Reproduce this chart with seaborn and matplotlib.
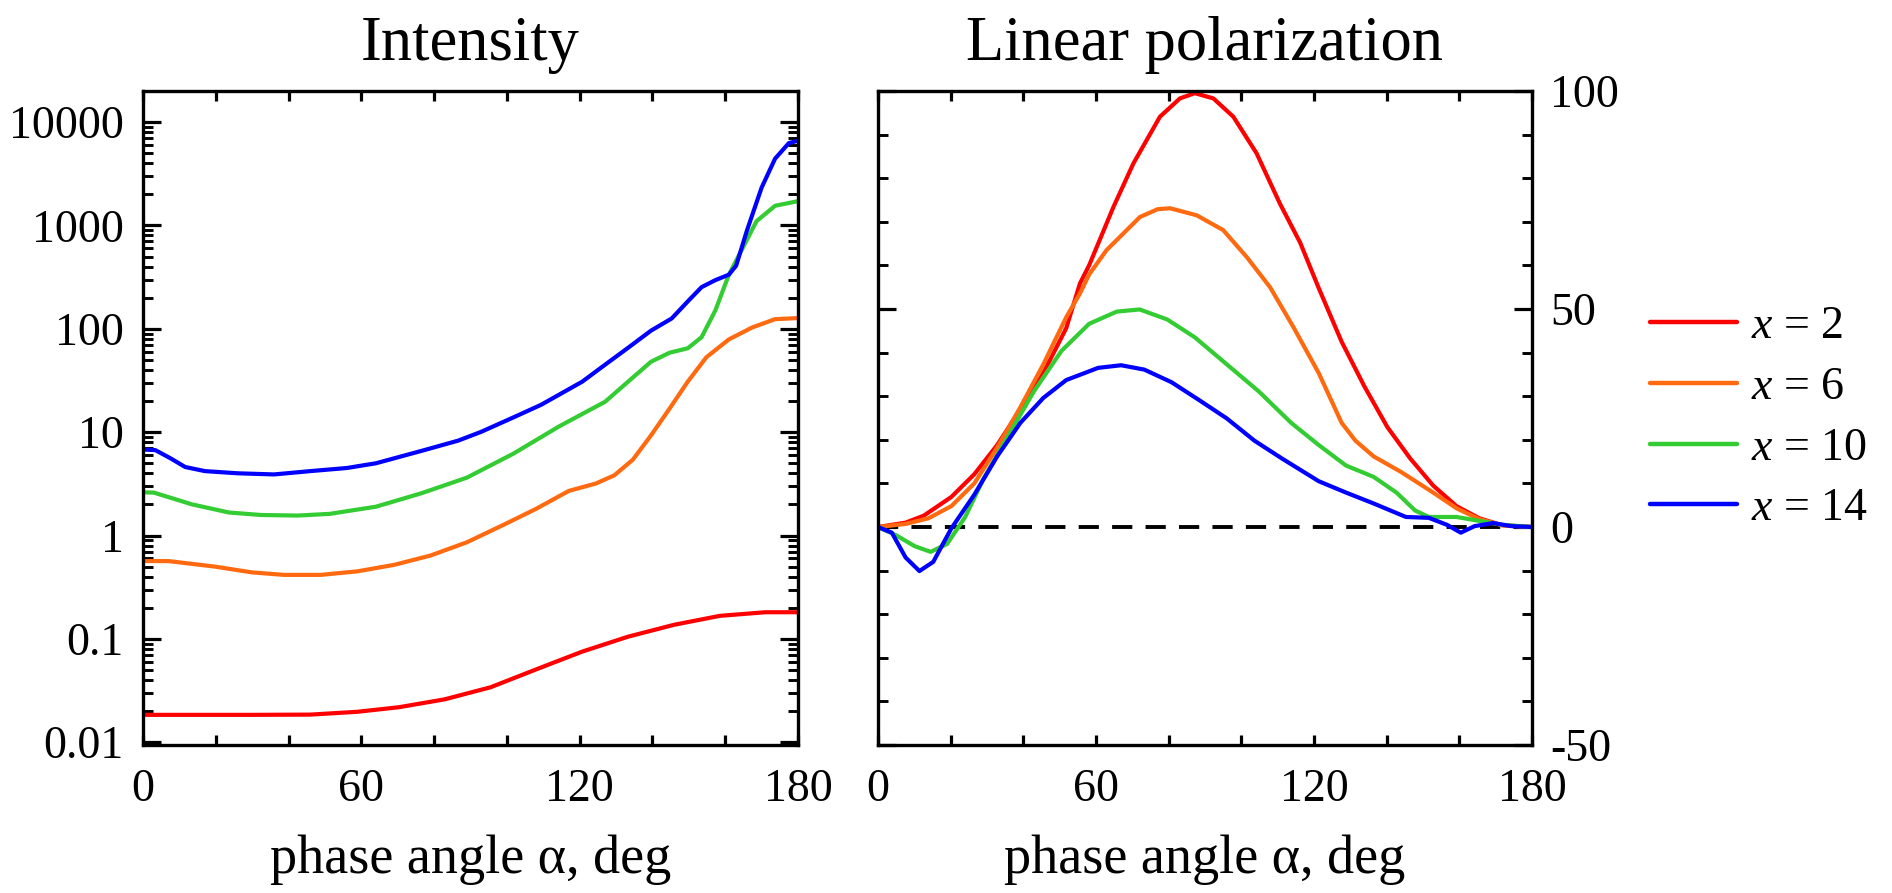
import numpy as np
import pandas as pd
import matplotlib
matplotlib.use("Agg")
import matplotlib.pyplot as plt
import seaborn as sns
from matplotlib.ticker import MultipleLocator, FuncFormatter, LogLocator, FixedLocator

# ---------------- data ----------------
labels = ["$x$ = 2", "$x$ = 6", "$x$ = 10", "$x$ = 14"]
colors = ["#ff0000", "#ff6a10", "#33cc33", "#0000ff"]

# Intensity (log scale)
int_x2_a = [0, 10, 20, 30, 46, 58.9, 70.3, 82.9, 95.5, 108, 120.7, 133.3, 146, 158.5, 171, 180]
int_x2_v = [0.0184, 0.0184, 0.0184, 0.0184, 0.0185, 0.0197, 0.0218, 0.026, 0.034, 0.0506, 0.0753, 0.105, 0.137, 0.167, 0.181, 0.181]

int_x6_a = [0, 7.2, 19.8, 29.9, 38.7, 48.8, 58.9, 69, 79, 89, 99.3, 108, 117, 124.5, 129.5, 134.6, 139.6,
            144.7, 149.7, 154.8, 161, 167.4, 173.7, 180]
int_x6_v = [0.567, 0.565, 0.50, 0.44, 0.416, 0.416, 0.45, 0.52, 0.64, 0.86, 1.28, 1.81, 2.70, 3.19, 3.82, 5.41, 9.3,
            16.9, 30.8, 53, 79, 103, 124, 127]

int_x10_a = [0, 3, 13.5, 23.6, 32.4, 42.5, 51.3, 64, 76.6, 89, 101.8, 114.4, 127, 133.3, 139.6, 144.7, 149.7,
             153.5, 157.3, 161, 164.8, 168.6, 173.7, 180]
int_x10_v = [2.62, 2.6, 2.0, 1.67, 1.58, 1.56, 1.62, 1.9, 2.57, 3.63, 6.2, 11.4, 19.7, 30.8, 48, 58.7, 64.8,
             83, 151, 334, 605, 1100, 1550, 1720]

int_x14_a = [0, 3.4, 7.5, 11.6, 17, 26, 36, 46, 56, 64, 76.6, 86.7, 93, 101.8, 109.4, 120.7, 127, 133.3, 139.6,
             145.3, 149.7, 153.5, 157.3, 161, 163, 166, 170, 173.7, 177.5, 180]
int_x14_v = [6.8, 6.7, 5.6, 4.6, 4.2, 4.0, 3.9, 4.2, 4.5, 5.0, 6.6, 8.3, 10.1, 13.9, 18.4, 30.8, 45, 65.5, 96,
             126, 184, 253, 296, 334, 408, 901, 2323, 4430, 6270, 6600]

# Linear polarization (%)
pol_x2_a = [0, 7.6, 12.6, 20.2, 26.5, 32.8, 39.2, 45.5, 51.8, 55.6, 58.1, 64.8, 70.3, 77.6, 83.1, 87.2,
            92.3, 97.8, 104.2, 110.6, 116.2, 121.3, 127.6, 133.9, 140.2, 146.5, 152.8, 159.2, 165.5, 171.8, 180]
pol_x2_v = [0, 1.0, 2.6, 6.9, 12.1, 18.8, 27, 35.3, 45.6, 55.9, 60.0, 73.4, 83.4, 94.1, 98.3, 99.5,
            98.3, 94.1, 85.7, 74.2, 65.2, 54.8, 42.5, 32.2, 22.9, 15.7, 9.5, 4.8, 2.0, 0.4, 0]

pol_x6_a = [0, 7.6, 13.9, 20.2, 26.5, 32.8, 39.2, 45.5, 51.8, 55.6, 58.1, 62.9, 72.1, 77, 80.4,
            87.7, 95, 101.5, 107.9, 114.3, 121.3, 127.6, 131.4, 136.4, 144, 152.8, 159.2, 165.5, 171.8, 180]
pol_x6_v = [0, 0.7, 2.0, 4.8, 10, 18.2, 27.5, 37.3, 48.1, 53.6, 57.9, 63.5, 71.1, 72.9, 73.1,
            71.5, 68.1, 61.9, 55.0, 45.9, 35.3, 23.9, 19.8, 16.2, 12.6, 7.9, 4.3, 1.8, 0.4, 0]

pol_x10_a = [0, 5, 10.1, 14.5, 19, 24, 29, 35.4, 42.9, 50.5, 58.1, 65.7, 72, 79.6, 87.2, 96, 104.8, 113.7,
             121.3, 128.8, 136.4, 142.7, 147.8, 151.6, 159.2, 165.5, 171.8, 180]
pol_x10_v = [0, -1.9, -4.4, -5.7, -3.9, 2.3, 11, 20.3, 31.1, 40.4, 46.6, 49.4, 49.9, 47.6, 43.5, 37.3, 31.1, 23.9,
             18.8, 14.1, 11.5, 7.9, 3.8, 2.3, 2.3, 1.4, 0.5, 0]

pol_x14_a = [0, 3.8, 7.6, 11.4, 15.2, 20.2, 26.5, 32.8, 39.2, 45.5, 51.8, 60.6, 66.9, 73.3, 80.8, 88.4, 96,
             103.6, 111.2, 121.3, 128.8, 136.4, 145.3, 151.6, 156.6, 160.4, 164.2, 169.3, 174.3, 180]
pol_x14_v = [0, -1.3, -7, -10.1, -8.0, -0.3, 7.4, 16.2, 23.9, 29.6, 33.7, 36.5, 37.1, 36.1, 33.2, 29.1, 24.9,
             19.8, 15.7, 10.5, 7.9, 5.4, 2.3, 2.1, 0.5, -1.3, 0.2, 0.9, 0.2, 0]

x_ticks_labelled = [0, 60, 120, 180]
pol_ticks_labelled = [-50, 0, 50, 100]


def long_df(pairs):
    frames = []
    for lab, (a, v) in zip(labels, pairs):
        frames.append(pd.DataFrame({"angle": a, "value": v, "series": lab}))
    return pd.concat(frames, ignore_index=True)


df_int = long_df([(int_x2_a, int_x2_v), (int_x6_a, int_x6_v),
                  (int_x10_a, int_x10_v), (int_x14_a, int_x14_v)])
df_pol = long_df([(pol_x2_a, pol_x2_v), (pol_x6_a, pol_x6_v),
                  (pol_x10_a, pol_x10_v), (pol_x14_a, pol_x14_v)])

# ---------------- style ----------------
sns.set_theme(style="white")
plt.rcParams["font.family"] = ["Liberation Serif", "DejaVu Serif"]
plt.rcParams["mathtext.fontset"] = "custom"
plt.rcParams["mathtext.rm"] = "Liberation Serif"
plt.rcParams["mathtext.it"] = "Liberation Serif:italic"
plt.rcParams["axes.unicode_minus"] = False
for k in ["text.color", "axes.labelcolor", "xtick.color", "ytick.color", "axes.edgecolor"]:
    plt.rcParams[k] = "black"

W, H = 1892, 893
top, bottom = 91, 745
fig = plt.figure(figsize=(W / 100, H / 100), dpi=100)
ax1 = fig.add_axes([143 / W, (H - bottom) / H, (798 - 143) / W, (bottom - top) / H])
ax2 = fig.add_axes([878 / W, (H - bottom) / H, (1532 - 878) / W, (bottom - top) / H])

palette = dict(zip(labels, colors))
lw = 3.0
sns.lineplot(data=df_int, x="angle", y="value", hue="series", palette=palette,
             estimator=None, sort=False, lw=lw, ax=ax1, legend=False,
             solid_joinstyle="round", solid_capstyle="round")
sns.lineplot(data=df_pol, x="angle", y="value", hue="series", palette=palette,
             estimator=None, sort=False, lw=lw, ax=ax2, legend=True,
             solid_joinstyle="round", solid_capstyle="round")
ax2.axhline(0, color="black", lw=2.8, ls=(0, (5.2, 3.4)), zorder=0)

tick_fs = 33
title_fs = 45
label_fs = 39


def x_fmt(v, pos):
    iv = int(round(v))
    return str(iv) if iv in x_ticks_labelled else ""


for ax in (ax1, ax2):
    ax.set_xlim(0, 180)
    ax.xaxis.set_major_locator(MultipleLocator(20))
    ax.xaxis.set_major_formatter(FuncFormatter(x_fmt))
    for s in ax.spines.values():
        s.set_linewidth(2.4)
        s.set_color("black")
    ax.tick_params(axis="x", which="major", direction="in", length=7.5, width=2.3,
                   top=True, bottom=True, labelsize=tick_fs, pad=17, colors="black")
    ax.set_xlabel("phase angle α, deg", fontsize=label_fs, labelpad=17)
    ax.set_ylabel("")
    ax.grid(False)

# Intensity axis
ax1.set_yscale("log")
ax1.set_ylim(0.0094, 2.0e4)
ax1.yaxis.set_major_locator(FixedLocator([0.01, 0.1, 1, 10, 100, 1000, 10000]))
ax1.yaxis.set_major_formatter(FuncFormatter(lambda v, p: f"{v:g}"))
ax1.yaxis.set_minor_locator(LogLocator(base=10, subs=np.arange(2, 10), numticks=20))
ax1.yaxis.set_minor_formatter(FuncFormatter(lambda v, p: ""))
ax1.tick_params(axis="y", which="major", direction="in", length=13, width=2.3,
                left=True, right=True, labelsize=tick_fs, pad=14, colors="black")
ax1.tick_params(axis="y", which="minor", direction="in", length=7, width=2.1,
                left=True, right=True)
ax1.set_title("Intensity", fontsize=title_fs, pad=22)

# Polarization axis
ax2.set_ylim(-50, 100)
ax2.yaxis.set_major_locator(FixedLocator(pol_ticks_labelled))
ax2.yaxis.set_minor_locator(MultipleLocator(10))
ax2.yaxis.tick_right()
ax2.tick_params(axis="y", which="major", direction="in", length=13, width=2.3,
                left=True, right=True, labelleft=False, labelright=True,
                labelsize=tick_fs, pad=13, colors="black")
ax2.tick_params(axis="y", which="minor", direction="in", length=7, width=2.1,
                left=True, right=True)
ax2.set_title("Linear polarization", fontsize=title_fs, pad=22)

handles, labs = ax2.get_legend_handles_labels()
ax2.get_legend().remove()
for h in handles:
    h.set_linewidth(3.2)
fig.legend(handles, labs, loc="center left", bbox_to_anchor=(1650 / W, (H - 418) / H),
           frameon=False, fontsize=33, handlelength=1.9, handletextpad=0.3,
           labelspacing=0.4, borderpad=0, borderaxespad=0)

fig.savefig("out.png", dpi=100)
